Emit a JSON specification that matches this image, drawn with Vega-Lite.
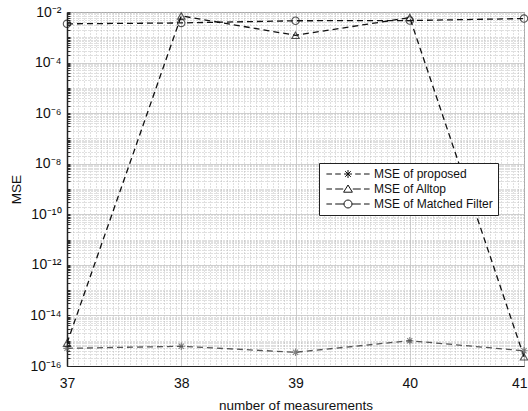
{
  "$schema": "https://vega.github.io/schema/vega-lite/v6.json",
  "autosize": "none",
  "width": 457,
  "height": 354,
  "padding": {"left": 67, "top": 12, "right": 4, "bottom": 45},
  "background": "white",
  "config": {
    "font": "Liberation Sans",
    "view": {"stroke": "#222", "strokeWidth": 1},
    "axis": {"labelFont": "Liberation Sans", "titleFont": "Liberation Sans", "labelColor": "#111", "titleColor": "#111", "titleFontWeight": "normal"}
  },
  "data": {
    "values": [
      {"n": 37, "series": "MSE of proposed", "mse": 5e-16},
      {"n": 38, "series": "MSE of proposed", "mse": 6e-16},
      {"n": 39, "series": "MSE of proposed", "mse": 3.5e-16},
      {"n": 40, "series": "MSE of proposed", "mse": 1e-15},
      {"n": 41, "series": "MSE of proposed", "mse": 4e-16},
      {"n": 37, "series": "MSE of Alltop", "mse": 8e-16},
      {"n": 38, "series": "MSE of Alltop", "mse": 7e-3},
      {"n": 39, "series": "MSE of Alltop", "mse": 1.2e-3},
      {"n": 40, "series": "MSE of Alltop", "mse": 6e-3},
      {"n": 41, "series": "MSE of Alltop", "mse": 2.3e-16},
      {"n": 37, "series": "MSE of Matched Filter", "mse": 3.4e-3},
      {"n": 38, "series": "MSE of Matched Filter", "mse": 3.7e-3},
      {"n": 39, "series": "MSE of Matched Filter", "mse": 4.5e-3},
      {"n": 40, "series": "MSE of Matched Filter", "mse": 4.6e-3},
      {"n": 41, "series": "MSE of Matched Filter", "mse": 5.5e-3}
    ]
  },
  "layer": [
    {
      "mark": {"type": "line", "strokeDash": [6, 4], "strokeWidth": 1.3},
      "encoding": {
        "x": {"field": "n", "type": "quantitative", "scale": {"domain": [37, 41], "nice": false, "zero": false},
          "axis": {"orient": "bottom", "tickCount": 80, "grid": true, "gridColor": "#b0b0b0", "gridDash": [1, 2], "gridWidth": 0.8, "labels": false, "ticks": false, "domain": false, "title": null}},
        "y": {"field": "mse", "type": "quantitative", "scale": {"type": "log", "domain": [1e-16, 1e-2], "nice": false},
          "axis": {"orient": "left", "tickCount": 150, "grid": true, "gridColor": "#b0b0b0", "gridDash": [1, 2], "gridWidth": 0.8, "labels": false, "ticks": true, "tickSize": -3, "tickColor": "#333", "domain": false, "title": null}},
        "color": {"field": "series", "type": "nominal", "scale": {"domain": ["MSE of proposed", "MSE of Alltop", "MSE of Matched Filter"], "range": ["#555555", "#111111", "#111111"]}, "legend": null},
        "detail": {"field": "series"}
      }
    },
    {
      "mark": {"type": "point", "filled": false, "size": 55, "strokeWidth": 1.1},
      "encoding": {
        "x": {"field": "n", "type": "quantitative",
          "axis": {"orient": "bottom", "values": [37, 38, 39, 40, 41], "format": "d", "grid": true, "gridColor": "#c8c8c8", "gridWidth": 0.8, "ticks": false, "labelFontSize": 14, "labelPadding": 10, "labelFlush": false, "labelAlign": {"expr": "datum.value == 41 ? 'right' : 'center'"}, "labelOffset": {"expr": "datum.value == 41 ? 3 : 0"}, "domain": true, "domainColor": "#222", "title": "number of measurements", "titleFontSize": 13.5, "titlePadding": 8}},
        "y": {"field": "mse", "type": "quantitative",
          "axis": {"orient": "left", "values": [1e-16, 1e-14, 1e-12, 1e-10, 1e-8, 1e-6, 1e-4, 1e-2], "labelExpr": "'10' + replace(replace(replace(replace(replace(replace(replace(replace('' + round(log(datum.value)/LN10), '-', '⁻'), '1', '¹'), '2', '²'), '4', '⁴'), '6', '⁶'), '8', '⁸'), '0', '⁰'), '2', '²')", "grid": true, "gridColor": "#c8c8c8", "gridWidth": 0.8, "ticks": false, "labelFontSize": 14, "labelPadding": 6, "domain": true, "domainColor": "#222", "domainWidth": 1.5, "title": "MSE", "titleFontSize": 13.5, "titlePadding": 6}},
        "color": {"field": "series", "type": "nominal", "legend": null},
        "shape": {"field": "series", "type": "nominal", "legend": null,
          "scale": {"domain": ["MSE of proposed", "MSE of Alltop", "MSE of Matched Filter"], "range": ["M-1,0H1M0,-1V1M-0.7,-0.7L0.7,0.7M-0.7,0.7L0.7,-0.7", "triangle-up", "circle"]}}
      }
    },
    {
      "transform": [{"filter": "datum.mse < 0"}],
      "mark": {"type": "point", "filled": false, "size": 64},
      "encoding": {
        "x": {"field": "n", "type": "quantitative", "axis": null},
        "y": {"field": "mse", "type": "quantitative", "axis": null},
        "shape": {"field": "series", "type": "nominal",
          "scale": {"domain": ["MSE of proposed", "MSE of Alltop", "MSE of Matched Filter"],
            "range": [
              "M-5.4,0H-4M-3.2,0H-1.8M-1,0H1M0,-1V1M-0.7,-0.7L0.7,0.7M-0.7,0.7L0.7,-0.7M1.8,0H3.2M4,0H5.4",
              "M-5.4,0H-4M-3.2,0H-1.2M1.2,0H3.2M4,0H5.4M0,-1L1.1,0.8L-1.1,0.8Z",
              "M-5.4,0H-4M-3.2,0H-1M1,0H3.2M4,0H5.4M1,0A1,1 0 1,1 -1,0A1,1 0 1,1 1,0"
            ]},
          "legend": {"title": null, "orient": "none", "legendX": 252, "legendY": 151, "padding": 5, "strokeColor": "#222", "fillColor": "white", "symbolSize": 64, "symbolOffset": 18, "labelOffset": 20, "symbolStrokeColor": "#111", "symbolFillColor": "transparent", "symbolStrokeWidth": 1, "symbolOpacity": 1, "labelFontSize": 12, "labelFont": "Liberation Sans", "labelColor": "#111", "rowPadding": 3}}
      }
    }
  ],
  "resolve": {"scale": {"shape": "independent"}, "axis": {"x": "independent", "y": "independent"}}
}
